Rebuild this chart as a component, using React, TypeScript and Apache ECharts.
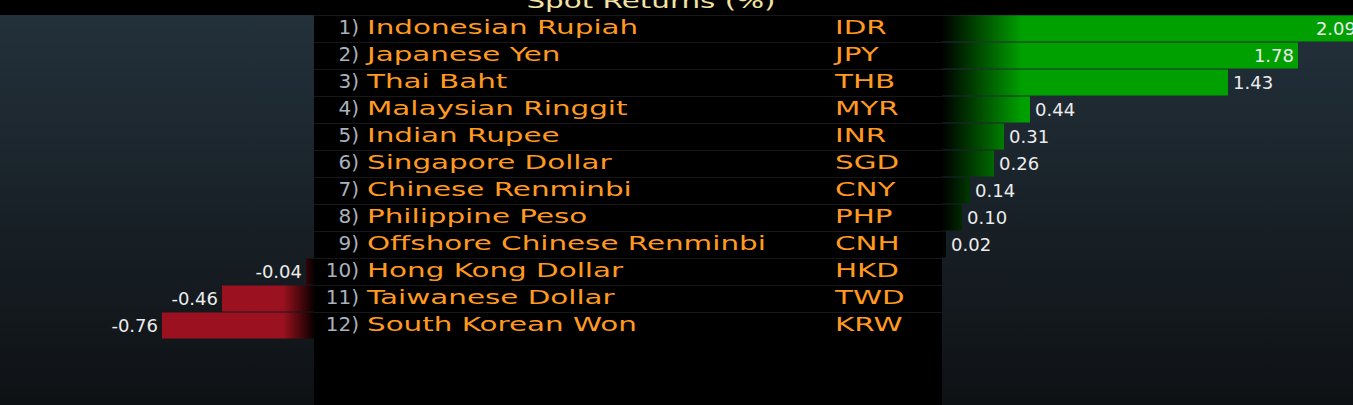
import React, { useEffect, useRef } from "react";
import * as echarts from "echarts";

const currencyNames = [
  "Indonesian Rupiah",
  "Japanese Yen",
  "Thai Baht",
  "Malaysian Ringgit",
  "Indian Rupee",
  "Singapore Dollar",
  "Chinese Renminbi",
  "Philippine Peso",
  "Offshore Chinese Renminbi",
  "Hong Kong Dollar",
  "Taiwanese Dollar",
  "South Korean Won",
];
const currencyCodes = ["IDR", "JPY", "THB", "MYR", "INR", "SGD", "CNY", "PHP", "CNH", "HKD", "TWD", "KRW"];
const spotReturns = [2.09, 1.78, 1.43, 0.44, 0.31, 0.26, 0.14, 0.1, 0.02, -0.04, -0.46, -0.76];
const chartTitle = "Spot Returns (%)";

const FONT = "DejaVu Sans";
const SX = 1.47;

export default function App() {
  const ref = useRef<HTMLDivElement>(null);
  useEffect(() => {
    document.body.style.margin = "0";
    const chart = echarts.init(ref.current!, undefined, { renderer: "svg" });

    const panelGrad = () =>
      new echarts.graphic.LinearGradient(0, 0, 0, 1, [
        { offset: 0, color: "#23313b" },
        { offset: 1, color: "#0e1114" },
      ]);
    const greenGrad = new echarts.graphic.LinearGradient(
      942, 0, 1022, 0,
      [
        { offset: 0, color: "#000000" },
        { offset: 1, color: "#00a000" },
      ],
      true
    );
    const redGrad = new echarts.graphic.LinearGradient(
      283, 0, 314, 0,
      [
        { offset: 0, color: "#9c111f" },
        { offset: 1, color: "#0a0000" },
      ],
      true
    );

    const labelStyle = {
      show: true,
      color: "#ececec",
      fontFamily: FONT,
      fontSize: 18,
      formatter: (p: any) => Number(p.value).toFixed(2),
    };

    const option: any = {
      animation: false,
      backgroundColor: "#000000",
      graphic: [
        { type: "rect", z: -10, shape: { x: 0, y: 15, width: 314, height: 390 }, style: { fill: panelGrad() } },
        { type: "rect", z: -10, shape: { x: 942, y: 15, width: 411, height: 390 }, style: { fill: panelGrad() } },
        {
          type: "text",
          x: 651,
          y: 1,
          scaleX: SX,
          style: {
            text: chartTitle,
            align: "center",
            verticalAlign: "middle",
            fill: "#f2e3a2",
            fontFamily: FONT,
            fontSize: 20,
          },
        },
      ],
      grid: [
        { left: 0, width: 314, top: 15, height: 324 },
        { left: 314, width: 628, top: 15, height: 324 },
        { left: 942, width: 411, top: 15, height: 324 },
      ],
      xAxis: [
        { type: "value", gridIndex: 0, min: -1.57, max: 0, show: false },
        { type: "value", gridIndex: 1, min: 0, max: 1, show: false },
        { type: "value", gridIndex: 2, min: 0, max: 2.055, show: false },
      ],
      yAxis: [0, 1, 2].map((g) => ({
        type: "category",
        gridIndex: g,
        data: currencyCodes,
        inverse: true,
        show: false,
      })),
      series: [
        {
          type: "bar",
          xAxisIndex: 0,
          yAxisIndex: 0,
          barWidth: 26,
          itemStyle: { color: redGrad },
          label: { ...labelStyle, position: "left", distance: 4 },
          data: spotReturns.map((v) => (v < 0 ? v : "-")),
        },
        {
          type: "custom",
          xAxisIndex: 1,
          yAxisIndex: 1,
          encode: { x: 0, y: 1 },
          data: currencyNames.map((_, i) => [0, i]),
          renderItem: (params: any, api: any) => {
            const i = api.value(1);
            const cy = api.coord([0, i])[1];
            const top = cy - 13.5;
            const ty = cy - 1.5;
            return {
              type: "group",
              children: [
                {
                  type: "line",
                  shape: { x1: 314, y1: top + 0.5, x2: 942, y2: top + 0.5 },
                  style: { stroke: "#171717", lineWidth: 1 },
                },
                {
                  type: "text",
                  x: 359,
                  y: ty,
                  style: {
                    text: `${i + 1})`,
                    align: "right",
                    verticalAlign: "middle",
                    fill: "#a9b2bd",
                    fontFamily: FONT,
                    fontSize: 20,
                  },
                },
                {
                  type: "text",
                  x: 367,
                  y: ty,
                  scaleX: SX,
                  style: {
                    text: currencyNames[i],
                    align: "left",
                    verticalAlign: "middle",
                    fill: "#ff9a1f",
                    fontFamily: FONT,
                    fontSize: 20,
                  },
                },
                {
                  type: "text",
                  x: 835,
                  y: ty,
                  scaleX: SX,
                  style: {
                    text: currencyCodes[i],
                    align: "left",
                    verticalAlign: "middle",
                    fill: "#ff9a1f",
                    fontFamily: FONT,
                    fontSize: 20,
                  },
                },
              ],
            };
          },
        },
        {
          type: "bar",
          xAxisIndex: 2,
          yAxisIndex: 2,
          barWidth: 26,
          clip: false,
          itemStyle: { color: greenGrad },
          label: { ...labelStyle, distance: 5 },
          data: spotReturns.map((v) =>
            v > 0
              ? { value: v, label: { position: v > 1.5 ? "insideRight" : "right", distance: v > 1.5 ? 4 : 5 } }
              : "-"
          ),
        },
      ],
    };
    chart.setOption(option);
    return () => chart.dispose();
  }, []);
  return <div ref={ref} style={{ position: "absolute", left: 0, top: 0, width: 1353, height: 405 }} />;
}
